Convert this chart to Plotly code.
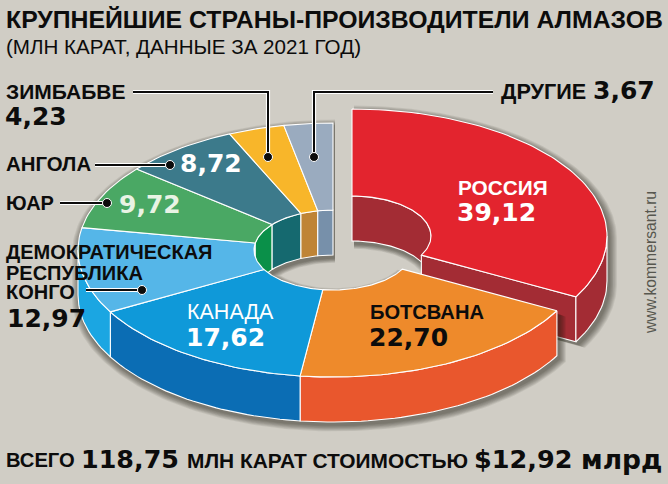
import math
import plotly.graph_objects as go

# Diamond output by country, million carats, 2021
countries = ["Россия", "Ботсвана", "Канада", "ДР Конго", "ЮАР", "Ангола", "Зимбабве", "Другие"]
carats = [39.12, 22.70, 17.62, 12.97, 9.72, 8.72, 4.23, 3.67]
total_carats = 118.75
total_value_bn = 12.92

top_colors = ["#e3242e", "#ee8a2b", "#0f99d9", "#55b6e8", "#4aa864", "#3c7a8b", "#f8b62a", "#9aabbf"]
wall_colors = ["#a32c34", "#e9572d", "#0b6db4", "#1ba6e2", "#0a9049", "#15696f", "#bf8436", "#7790aa"]

BG = "#d0cdc5"
RX, RY = 255, 127
INNER_RX, INNER_RY = 79, 40
DEPTH = 45
LABEL_FONT = "Liberation Sans"
NUM_FONT = "DejaVu Sans"

# Slice boundaries in degrees, clockwise from twelve o'clock
angles = [0.0]
for v in carats:
    angles.append(angles[-1] + v / total_carats * 360)

fig = go.Figure()


def point(center, rx, ry, deg, drop=0):
    t = math.radians(deg)
    return center[0] + rx * math.sin(t), center[1] - ry * math.cos(t) + drop


def arc(center, rx, ry, a, b, drop=0, step=1.5):
    n = max(2, int(abs(b - a) / step) + 1)
    return [point(center, rx, ry, a + (b - a) * i / (n - 1), drop) for i in range(n)]


def poly(pts, fill, line="white", width=1.1, name=None):
    fig.add_trace(go.Scatter(
        x=[p[0] for p in pts] + [pts[0][0]],
        y=[p[1] for p in pts] + [pts[0][1]],
        mode="lines", fill="toself", fillcolor=fill,
        line=dict(color=line, width=width),
        hoverinfo="skip", showlegend=False, name=name,
    ))


def shadow(center, a, b, back_inner_only):
    # Soft drop shadow: stacked translucent outlines of the extruded ring
    for k in range(8, 0, -1):
        c = (center[0] + 2, center[1] + 3)
        rx, ry = RX + k, RY + k * 0.8
        ix, iy = INNER_RX - k, INNER_RY - k * 0.6
        pts = []
        for d in [a + (b - a) * i / 160 for i in range(161)]:
            front = 90 < d % 360 < 270
            pts.append(point(c, rx, ry, d, DEPTH if front else 0))
        for d in [b - (b - a) * i / 80 for i in range(81)]:
            back = not (90 < d % 360 < 270)
            pts.append(point(c, ix, iy, d, DEPTH if (back or not back_inner_only) else 0))
        pts.append(point(c, rx, ry, a))
        fig.add_trace(go.Scatter(
            x=[p[0] for p in pts], y=[p[1] for p in pts],
            mode="lines", fill="toself", fillcolor="rgba(30,25,20,0.075)",
            line=dict(width=0), hoverinfo="skip", showlegend=False,
        ))


def draw_group(center, indices):
    # Painter's order: walls at the back of the hole, cut faces, outer walls, top faces
    for i in indices:
        a, b = angles[i], angles[i + 1]
        for lo, hi in ((0, 90), (270, 360)):
            s, e = max(a, lo), min(b, hi)
            if s < e:
                poly(arc(center, INNER_RX, INNER_RY, s, e)
                     + arc(center, INNER_RX, INNER_RY, e, s, DEPTH), wall_colors[i], name=countries[i])
    for i in indices:
        a, b = angles[i], angles[i + 1]
        if i == 0:
            poly([point(center, INNER_RX, INNER_RY, b), point(center, RX, RY, b),
                  point(center, RX, RY, b, DEPTH), point(center, INNER_RX, INNER_RY, b, DEPTH)],
                 wall_colors[i], name=countries[i])
        s, e = max(a, 90), min(b, 270)
        if s < e:
            poly(arc(center, RX, RY, s, e) + arc(center, RX, RY, e, s, DEPTH),
                 wall_colors[i], name=countries[i])
    for i in indices:
        a, b = angles[i], angles[i + 1]
        poly(arc(center, RX, RY, a, b) + arc(center, INNER_RX, INNER_RY, b, a),
             top_colors[i], name=countries[i])


RUSSIA_CENTER = (352, 236)
RING_CENTER = (333, 250)

shadow(RUSSIA_CENTER, angles[0], angles[1], False)
draw_group(RUSSIA_CENTER, [0])
shadow(RING_CENTER, angles[1], angles[-1], True)
draw_group(RING_CENTER, list(range(1, len(carats))))


def leader(xs, ys):
    # Callout line with a white casing and a round end dot
    fig.add_trace(go.Scatter(x=xs, y=ys, mode="lines", line=dict(color="white", width=4.2),
                             hoverinfo="skip", showlegend=False))
    fig.add_trace(go.Scatter(x=xs, y=ys, mode="lines", line=dict(color="#0c0c0c", width=2),
                             hoverinfo="skip", showlegend=False))
    fig.add_trace(go.Scatter(x=[xs[-1]], y=[ys[-1]], mode="markers",
                             marker=dict(color="#0c0c0c", size=9, line=dict(color="white", width=1)),
                             hoverinfo="skip", showlegend=False))


leader([133, 268, 268], [92, 92, 157])
leader([493, 314, 314], [92, 92, 157])
leader([95, 170], [165, 165])
leader([60, 107], [203, 203])
leader([86, 142], [290, 290])


def text(x, y, s, size, color="#0c0c0c", font=LABEL_FONT, bold=True, anchor="left", angle=0):
    weight = "bold" if bold else "normal"
    fig.add_annotation(x=x, y=y, xref="x", yref="y", text=s, showarrow=False,
                       xanchor=anchor, yanchor="middle", textangle=angle, borderpad=0, borderwidth=0,
                       font=dict(family=font, size=size, color=color, weight=weight))


def num(v):
    return f"{v:.2f}".replace(".", ",")


text(6, 19, "КРУПНЕЙШИЕ СТРАНЫ-ПРОИЗВОДИТЕЛИ АЛМАЗОВ", 24.8)
text(6, 46, "(МЛН КАРАТ, ДАННЫЕ ЗА 2021 ГОД)", 20.6, bold=False)

text(6, 91, "ЗИМБАБВЕ", 21)
text(5, 116, num(carats[6]), 25, font=NUM_FONT)
text(6, 164, "АНГОЛА", 20.4)
text(6, 203, "ЮАР", 20)
text(6, 252, "ДЕМОКРАТИЧЕСКАЯ", 20)
text(6, 273, "РЕСПУБЛИКА", 20)
text(6, 292, "КОНГО", 20)
text(7, 318, num(carats[3]), 25, font=NUM_FONT)
text(501, 91, "ДРУГИЕ", 21.6)
text(593, 90, num(carats[7]), 25, font=NUM_FONT)

text(180, 163, num(carats[5]), 25, color="white", font=NUM_FONT)
text(119, 204, num(carats[4]), 25, color="#e9f3e4", font=NUM_FONT)
text(458, 187, "РОССИЯ", 20.8, color="white")
text(457, 212, num(carats[0]), 25, color="white", font=NUM_FONT)
text(187, 312, "КАНАДА", 21.5, color="white", bold=False)
text(186, 337, num(carats[2]), 25, color="white", font=NUM_FONT)
text(370, 312, "БОТСВАНА", 20.1)
text(369, 337, num(carats[1]), 25, font=NUM_FONT)

text(6, 460, "ВСЕГО", 20.2)
text(81, 459, num(total_carats), 25.4, font=NUM_FONT)
text(187, 460, "МЛН КАРАТ СТОИМОСТЬЮ", 20.9)
text(474, 459, f"${num(total_value_bn)}", 25.5, font=NUM_FONT)
text(662, 459, "млрд", 26.5, font=NUM_FONT, anchor="right")

text(650, 263, "www.kommersant.ru", 15.7, color="#57574f", bold=False, anchor="center", angle=-90)

fig.update_layout(
    width=668, height=484, autosize=False,
    margin=dict(l=0, r=0, t=0, b=0),
    paper_bgcolor=BG, plot_bgcolor=BG,
    xaxis=dict(range=[0, 668], visible=False, fixedrange=True),
    yaxis=dict(range=[484, 0], visible=False, fixedrange=True),
    showlegend=False,
)
fig.write_html("out.html", config=dict(displayModeBar=False))
